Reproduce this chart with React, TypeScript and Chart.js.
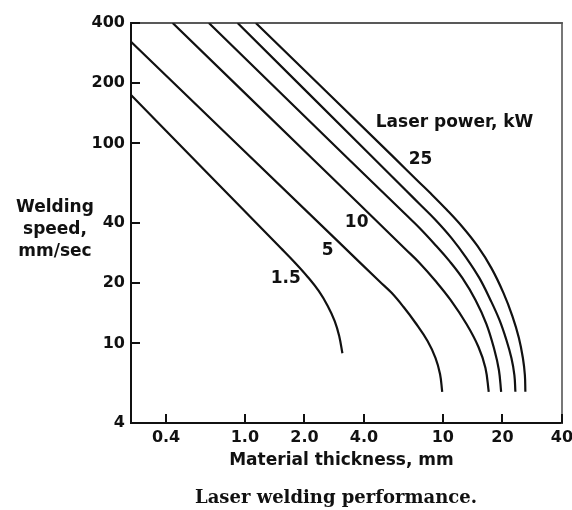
import React, { useEffect, useRef } from "react";
import { Chart, registerables } from "chart.js";

Chart.register(...registerables);

// ---- Data ----
const powerLabels = ["1.5", "5", "10", "15", "20", "25"];

const thickness1_5 = [0.266, 0.6, 1.519, 1.787, 2.078, 2.361, 2.622, 2.844, 2.996, 3.11];
const speed1_5 = [174.6, 76.7, 30.0, 25.4, 21.5, 18.3, 15.4, 12.94, 10.89, 8.93];

const thickness5 = [0.266, 3.0, 4.796, 5.511, 6.337, 7.285, 8.373, 9.19, 9.681, 9.931];
const speed5 = [322.5, 31.9, 20.4, 17.9, 15.2, 12.65, 10.28, 8.45, 7.03, 5.73];

const thickness10 = [0.4318, 2.236, 6.5, 7.63, 9.19, 10.94, 13.17, 15.14, 16.42, 17.06];
const speed10 = [400, 82.4, 29.5, 25.24, 20.5, 16.5, 12.5, 9.6, 7.54, 5.73];

const thickness15 = [0.658, 3.296, 6.5, 7.63, 9.19, 10.81, 12.57, 14.62, 16.61, 18.23, 19.2, 19.71];
const speed15 = [400, 84.5, 44.07, 37.77, 31.0, 25.8, 21.2, 16.5, 12.5, 9.27, 7.36, 5.73];

const thickness20 = [0.919, 4.319, 6.5, 7.63, 9.19, 11.07, 13.17, 15.31, 17.4, 19.32, 20.95, 22.21, 22.99, 23.26];
const speed20 = [400, 87.3, 58.3, 49.8, 41.4, 33.6, 26.7, 21.2, 16.5, 13.1, 10.4, 8.45, 6.95, 5.73];

const thickness25 = [1.136, 5.641, 7.5, 8.67, 10.44, 12.57, 14.96, 17.6, 20.24, 22.46, 24.23, 25.38, 25.97, 26.12];
const speed25 = [400, 85.4, 64.7, 56.3, 46.7, 38.2, 30.7, 23.8, 17.9, 13.7, 10.64, 8.45, 6.95, 5.73];

const xTickValues = [0.4, 1, 2, 4, 10, 20, 40];
const xTickLabels = ["0.4", "1.0", "2.0", "4.0", "10", "20", "40"];
const yTickValues = [4, 10, 20, 40, 100, 200, 400];
const yTickLabels = ["4", "10", "20", "40", "100", "200", "400"];

const xMin = 0.266;
const xMax = 40;
const yMin = 4;
const yMax = 400;

// curve label anchors in data units (thickness, speed)
const curveLabelText = ["1.5", "5", "10", "25", "Laser power, kW"];
const curveLabelX = [1.61, 2.62, 3.67, 7.72, 11.46];
const curveLabelY = [21, 29, 40, 82.6, 126.5];

const yTitleLines = ["Welding", "speed,", "mm/sec"];
const xTitle = "Material thickness, mm";
const caption = "Laser welding performance.";

const series = [
  { label: powerLabels[0], x: thickness1_5, y: speed1_5 },
  { label: powerLabels[1], x: thickness5, y: speed5 },
  { label: powerLabels[2], x: thickness10, y: speed10 },
  { label: powerLabels[3], x: thickness15, y: speed15 },
  { label: powerLabels[4], x: thickness20, y: speed20 },
  { label: powerLabels[5], x: thickness25, y: speed25 },
];

const INK = "#111";
const SANS = '"DejaVu Sans", sans-serif';

const annotatePlugin = {
  id: "annotate",
  afterDatasetsDraw(chart: any) {
    const { ctx, chartArea } = chart;
    const xs = chart.scales.x;
    const ys = chart.scales.y;
    const { left, right, top, bottom } = chartArea;
    ctx.save();
    // frame
    ctx.lineCap = "square";
    ctx.strokeStyle = INK;
    ctx.lineWidth = 2;
    ctx.beginPath();
    ctx.moveTo(left, top);
    ctx.lineTo(left, bottom);
    ctx.lineTo(right, bottom);
    ctx.stroke();
    ctx.lineWidth = 1.6;
    ctx.strokeStyle = "#222";
    ctx.beginPath();
    ctx.moveTo(left, top);
    ctx.lineTo(right, top);
    ctx.stroke();
    ctx.strokeStyle = "#555";
    ctx.beginPath();
    ctx.moveTo(right, top);
    ctx.lineTo(right, bottom);
    ctx.stroke();

    // inward tick marks
    ctx.strokeStyle = INK;
    ctx.lineWidth = 2;
    ctx.lineCap = "butt";
    xTickValues.forEach((v) => {
      const px = Math.round(xs.getPixelForValue(v));
      ctx.beginPath();
      ctx.moveTo(px, bottom);
      ctx.lineTo(px, bottom - 9);
      ctx.stroke();
    });
    yTickValues.forEach((v) => {
      const py = Math.round(ys.getPixelForValue(v));
      ctx.beginPath();
      ctx.moveTo(left, py);
      ctx.lineTo(left + 9, py);
      ctx.stroke();
    });

    // curve labels
    ctx.fillStyle = INK;
    ctx.font = `bold 17px ${SANS}`;
    ctx.textAlign = "center";
    ctx.textBaseline = "middle";
    curveLabelText.forEach((t, i) => {
      ctx.fillText(t, xs.getPixelForValue(curveLabelX[i]), ys.getPixelForValue(curveLabelY[i]));
    });

    // axis titles
    ctx.textBaseline = "alphabetic";
    ctx.fillText(xTitle, (left + right) / 2 - 5, bottom + 42);
    const yBase = [212, 234, 256];
    yTitleLines.forEach((t, i) => ctx.fillText(t, 55, yBase[i]));

    // caption
    ctx.font = 'bold 18px "DejaVu Serif", serif';
    ctx.fillText(caption, 336, 503);
    ctx.restore();
  },
};

export default function App() {
  const ref = useRef<HTMLCanvasElement | null>(null);

  useEffect(() => {
    if (!ref.current) return;
    const tickFont = { family: SANS, size: 16, weight: "bold" as const };
    const chart = new Chart(ref.current, {
      type: "line",
      data: {
        datasets: series.map((s) => ({
          label: s.label,
          data: s.x.map((x, i) => ({ x, y: s.y[i] })),
          borderColor: INK,
          borderWidth: 2.2,
          pointRadius: 0,
          fill: false,
          tension: 0.4,
        })),
      },
      options: {
        responsive: false,
        animation: false,
        devicePixelRatio: 1,
        layout: { padding: { left: 0, top: 23, right: 10, bottom: 0 } },
        plugins: {
          legend: { display: false },
          tooltip: { enabled: false },
          title: { display: false },
        },
        scales: {
          x: {
            type: "logarithmic",
            min: xMin,
            max: xMax,
            afterBuildTicks: (s: any) => {
              s.ticks = xTickValues.map((v) => ({ value: v }));
            },
            afterFit: (s: any) => {
              s.height = 87;
              s.paddingLeft = 0;
              s.paddingRight = 0;
            },
            grid: { display: false, drawTicks: false },
            border: { display: false },
            ticks: {
              autoSkip: false,
              maxRotation: 0,
              padding: 5,
              color: INK,
              font: tickFont,
              callback: (_v: any, i: number) => xTickLabels[i],
            },
          },
          y: {
            type: "logarithmic",
            min: yMin,
            max: yMax,
            afterBuildTicks: (s: any) => {
              s.ticks = yTickValues.map((v) => ({ value: v }));
            },
            afterFit: (s: any) => {
              s.width = 131;
              s.paddingTop = 0;
              s.paddingBottom = 0;
            },
            grid: { display: false, drawTicks: false },
            border: { display: false },
            ticks: {
              autoSkip: false,
              padding: 6,
              color: INK,
              font: tickFont,
              callback: (_v: any, i: number) => yTickLabels[i],
            },
          },
        },
      },
      plugins: [annotatePlugin],
    });
    return () => chart.destroy();
  }, []);

  return (
    <div style={{ position: "fixed", left: 0, top: 0, width: 572, height: 510, background: "#fff" }}>
      <canvas ref={ref} width={572} height={510} style={{ display: "block", width: 572, height: 510 }} />
    </div>
  );
}
